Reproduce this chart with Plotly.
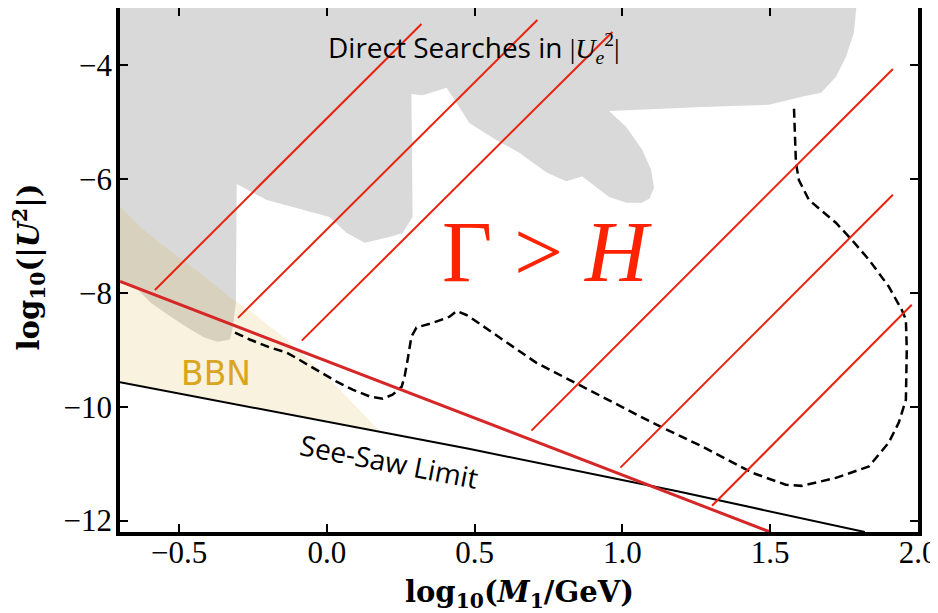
import plotly.graph_objects as go

# ---------------- data ----------------
# Direct-search excluded region (grey polygon), log10(M/GeV), log10(U^2)
direct_x = [-0.7, 1.793, 1.783, 1.756, 1.722, 1.672, 1.607, 1.496, 1.270, 0.955,
            1.013, 1.067, 1.097, 1.107, 1.091, 1.064, 1.013, 0.955, 0.864, 0.810,
            0.743, 0.651, 0.574, 0.482, 0.439, 0.405, 0.324, 0.286, 0.290, 0.256,
            0.212, 0.128, 0.067, 0.009, -0.203, -0.305, -0.308, -0.318, -0.328,
            -0.369, -0.413, -0.460, -0.528, -0.595, -0.639, -0.7]
direct_y = [-2.9, -2.9, -3.44, -3.86, -4.21, -4.49, -4.56, -4.70, -4.74, -4.81,
            -5.09, -5.49, -5.84, -6.16, -6.35, -6.42, -6.42, -6.32, -5.96, -6.04,
            -5.89, -5.54, -5.32, -5.02, -4.67, -4.40, -4.53, -4.51, -6.67, -6.95,
            -7.02, -7.12, -6.95, -6.67, -6.37, -6.09, -8.18, -8.60, -8.82,
            -8.86, -8.79, -8.65, -8.42, -8.18, -7.95, -7.82]

# BBN excluded region (upper edge, then back along see-saw line)
bbn_x = [-0.7, -0.622, -0.521, -0.430, -0.318, -0.251, -0.149, -0.034, 0.077, 0.178,
         0.0, -0.7]
bbn_y = [-6.49, -6.89, -7.30, -7.65, -8.12, -8.35, -8.77, -9.30, -9.88, -10.43,
         -10.26, -9.57]

# See-saw limit
seesaw_x = [-0.7, 0.0, 0.48, 1.19, 1.50, 1.82]
seesaw_y = [-9.57, -10.26, -10.74, -11.49, -11.84, -12.2]

# Gamma = H boundary (thick red)
gh_x = [-0.7, 1.5]
gh_y = [-7.80, -12.2]

# Dashed black contour
dash_x = [-0.311, -0.261, -0.193, -0.136, -0.092, -0.024, 0.033, 0.087, 0.145, 0.189,
          0.222, 0.253, 0.263, 0.273, 0.286, 0.303, 0.357, 0.415, 0.439, 0.472,
          0.482, 0.709, 0.932, 1.101, 1.270, 1.439, 1.553, 1.607, 1.722, 1.776,
          1.834, 1.901, 1.935, 1.959, 1.962, 1.959, 1.945, 1.901, 1.834, 1.776,
          1.722, 1.631, 1.597, 1.587, 1.580]
dash_y = [-8.70, -8.82, -8.96, -9.05, -9.18, -9.39, -9.56, -9.70, -9.82, -9.86,
          -9.79, -9.65, -9.47, -9.18, -8.77, -8.61, -8.53, -8.42, -8.32, -8.39,
          -8.42, -9.23, -9.82, -10.28, -10.70, -11.16, -11.37, -11.39, -11.25, -11.16,
          -11.05, -10.63, -10.28, -9.88, -9.00, -8.47, -8.30, -7.89, -7.42, -7.07,
          -6.77, -6.37, -6.02, -5.72, -4.70]

# Thin red hatch lines (Gamma > H region)
hatch_x0 = [-0.582, -0.301, -0.085, 0.692, 0.993, 1.303]
hatch_y0 = [-7.95, -8.44, -8.84, -10.42, -11.07, -11.74]
hatch_x1 = [0.320, 0.712, 0.966, 1.915, 1.915, 1.979]
hatch_y1 = [-3.28, -3.21, -3.42, -4.07, -6.28, -8.21]

# Axis ticks
x_ticks = [-0.5, 0.0, 0.5, 1.0, 1.5, 2.0]
x_ticktext = ["\u22120.5", "0.0", "0.5", "1.0", "1.5", "2.0"]
y_ticks = [-12, -10, -8, -6, -4]
y_ticktext = ["\u221212", "\u221210", "\u22128", "\u22126", "\u22124"]

# ---------------- figure ----------------
fig = go.Figure()

fig.add_trace(go.Scatter(x=direct_x, y=direct_y, fill="toself", mode="none",
                         fillcolor="#d9d9d9", hoverinfo="skip", showlegend=False))
fig.add_trace(go.Scatter(x=bbn_x, y=bbn_y, fill="toself", mode="none",
                         fillcolor="rgba(218,165,32,0.15)", hoverinfo="skip",
                         showlegend=False))
fig.add_trace(go.Scatter(x=seesaw_x, y=seesaw_y, mode="lines",
                         line=dict(color="black", width=2), showlegend=False))
fig.add_trace(go.Scatter(x=dash_x, y=dash_y, mode="lines",
                         line=dict(color="black", width=2.5, dash="9px,5px"),
                         showlegend=False))

hx, hy = [], []
for a, b, c, d in zip(hatch_x0, hatch_y0, hatch_x1, hatch_y1):
    hx += [a, c, None]
    hy += [b, d, None]
fig.add_trace(go.Scatter(x=hx, y=hy, mode="lines",
                         line=dict(color="#e8220c", width=2), showlegend=False))
fig.add_trace(go.Scatter(x=gh_x, y=gh_y, mode="lines",
                         line=dict(color="#d62728", width=3), showlegend=False))

serif = "Liberation Serif"
title_serif = "DejaVu Serif"
sans = "Open Sans"

fig.add_annotation(x=0.499, y=-3.70, xref="x", yref="y", showarrow=False,
                   text="Direct Searches in <span style='font-family:Liberation Serif'>|<i>U</i><sub><i>e</i></sub><sup>2</sup>|</span>",
                   font=dict(family=sans, size=28, color="black"))
fig.add_annotation(x=0.746, y=-7.28, xref="x", yref="y", showarrow=False,
                   text="\u0393 &gt; <i>H</i>",
                   font=dict(family=serif, size=87, color="#ff2200"))
fig.add_annotation(x=-0.376, y=-9.42, xref="x", yref="y", showarrow=False,
                   text="BBN", font=dict(family="DejaVu Sans", size=33, color="#daa520"))
fig.add_annotation(x=0.209, y=-10.96, xref="x", yref="y", showarrow=False,
                   text="See-Saw Limit", textangle=10.9,
                   font=dict(family=sans, size=28, color="black"))

# Axis titles
fig.add_annotation(x=0.5, y=-0.118, xref="paper", yref="paper", showarrow=False,
                   xanchor="center", yanchor="middle",
                   text="<b>log<sub>10</sub>(<i>M</i><sub>1</sub>/GeV)</b>",
                   font=dict(family=title_serif, size=29, color="black"))
fig.add_annotation(x=-0.114, y=0.505, xref="paper", yref="paper", showarrow=False,
                   xanchor="center", yanchor="middle", textangle=-90,
                   text="<b>log<sub>10</sub>(|<i>U</i><sup>2</sup>|)</b>",
                   font=dict(family=title_serif, size=29, color="black"))

axis_common = dict(showline=True, linecolor="black", linewidth=3.5, mirror="allticks",
                   ticks="inside", ticklen=8, tickwidth=2, tickcolor="black",
                   showgrid=False, zeroline=False, automargin=False,
                   tickfont=dict(family=serif, size=31, color="black"))

fig.update_xaxes(range=[-0.7, 2.0], tickvals=x_ticks, ticktext=x_ticktext,
                 ticklabelstandoff=-10, **axis_common)
fig.update_yaxes(range=[-12.2, -3.0], tickvals=y_ticks, ticktext=y_ticktext,
                 ticklabelstandoff=-2, **axis_common)

# page body has an 8px default margin, so the figure is 8px smaller than the window
fig.update_layout(width=930, height=605,
                  margin=dict(l=112, r=20, t=0, b=81),
                  plot_bgcolor="white", paper_bgcolor="white",
                  showlegend=False)

fig.write_html("out.html")
